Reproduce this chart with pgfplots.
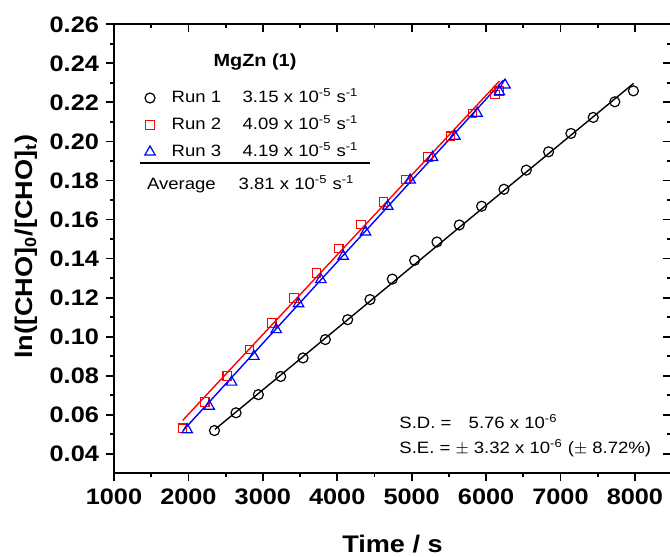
\documentclass[border=0pt]{standalone}
\usepackage{fontspec}
\setmainfont{Liberation Sans}[FakeStretch=1.13]
\usepackage{pgfplots}
\pgfplotsset{compat=1.18}

\pgfplotsset{
 myaxis/.style={
  scale only axis, width=278.5pt, height=224.5pt,
  xmin=1000, xmax=8485, ymin=0.03, ymax=0.26,
  xtick={1000,2000,3000,4000,5000,6000,7000,8000}, minor x tick num=1,
  ytick={0.04,0.06,0.08,0.10,0.12,0.14,0.16,0.18,0.20,0.22,0.24,0.26}, minor y tick num=1,
  scaled ticks=false,
  major tick length=4pt, minor tick length=2pt,
  every tick/.style={black, line width=0.9pt},
  axis line style={line width=0.9pt},
 }
}

\begin{document}
\begin{tikzpicture}
\begin{axis}[myaxis,
  axis x line*=top, axis y line*=right, tick align=inside,
  xticklabels={}, yticklabels={}]
\end{axis}
\begin{axis}[myaxis,
  axis x line*=bottom, axis y line*=left, tick align=outside,
  /pgf/number format/assume math mode=true,
  ticklabel style={font=\fontsize{11.2}{13}\selectfont\bfseries},
  xticklabel style={/pgf/number format/1000 sep={}},
  yticklabel style={/pgf/number format/fixed, /pgf/number format/fixed zerofill, /pgf/number format/precision=2},
  xlabel={Time / s},
  ylabel={ln([CHO]\textsubscript{0}/[CHO]\textsubscript{t})},
  label style={font=\fontsize{12}{14}\selectfont\bfseries},
  x label style={at={(axis description cs:0.5,-0.1753)}, anchor=base},
  y label style={at={(axis description cs:-0.1463,0.505)}, anchor=base},
  legend style={draw=none, fill=none, inner sep=0pt, outer sep=0pt,
    at={(axis description cs:0.0503,0.8548)}, anchor=north west,
    row sep=5pt, column sep=0pt,
    font=\fontsize{8.2}{10}\selectfont,
    nodes={inner sep=0pt, text height=6.5pt, text depth=2pt}},
  legend cell align=left,
  legend image code/.code={\path[draw=none] (0pt,0pt) (14.85pt,0pt);
    \draw[only marks, mark repeat=2, mark phase=2] plot coordinates {(0pt,0pt)(4pt,0pt)(8pt,0pt)};},
]
% Run 1
\addplot[only marks, black, mark=o, mark size=2.5pt, mark options={line width=0.6pt}] coordinates {
(2350,0.0519)(2640,0.0610)(2940,0.0703)(3240,0.0796)(3540,0.0891)(3840,0.0985)
(4140,0.1087)(4440,0.1190)(4740,0.1295)(5040,0.1391)(5340,0.1485)(5640,0.1572)
(5940,0.1668)(6240,0.1755)(6540,0.1853)(6840,0.1947)(7140,0.2041)(7440,0.2123)
(7730,0.2203)(7980,0.2259)};
\addlegendentry{\makebox[35.5pt][l]{Run 1}3.15 x 10\textsuperscript{-5} s\textsuperscript{-1}}
% Run 2
\addplot[only marks, red, mark=square, mark size=2.1pt, mark options={line width=0.6pt}] coordinates {
(1920,0.0531)(2220,0.0665)(2520,0.0798)(2820,0.0935)(3120,0.1070)(3420,0.1198)
(3720,0.1326)(4020,0.1451)(4320,0.1574)(4620,0.1690)(4920,0.1805)(5220,0.1921)
(5520,0.2027)(5820,0.2144)(6120,0.2241)(6175,0.2258)};
\addlegendentry{\makebox[35.5pt][l]{Run 2}4.09 x 10\textsuperscript{-5} s\textsuperscript{-1}}
% Run 3
\addplot[only marks, blue, mark=triangle, mark size=3pt, mark options={line width=0.6pt}] coordinates {
(1985,0.0523)(2280,0.0643)(2580,0.0767)(2880,0.0899)(3180,0.1036)(3480,0.1169)
(3780,0.1292)(4080,0.1412)(4380,0.1536)(4680,0.1668)(4980,0.1802)(5280,0.1918)
(5580,0.2027)(5880,0.2144)(6180,0.2254)(6255,0.2289)};
\addlegendentry{\makebox[35.5pt][l]{Run 3}4.19 x 10\textsuperscript{-5} s\textsuperscript{-1}}
% fits
\addplot[black, line width=0.7pt, forget plot] coordinates {(2357,0.0525)(7981,0.2297)};
\addplot[red, line width=0.7pt, forget plot] coordinates {(1923,0.0571)(6179,0.2309)};
\addplot[blue, line width=0.7pt, forget plot] coordinates {(1931,0.0520)(6233,0.2314)};

\node[anchor=base, inner sep=0pt, font=\fontsize{8.8}{11}\selectfont\bfseries] at (axis description cs:0.2531,0.9058) {MgZn (1)};
\draw[line width=0.9pt] (axis description cs:0.0467,0.6904) -- (axis description cs:0.4596,0.6904);
\node[anchor=base west, inner sep=0pt, font=\fontsize{8.2}{10}\selectfont] at (axis description cs:0.0587,0.633) {Average};
\node[anchor=base west, inner sep=0pt, font=\fontsize{8.2}{10}\selectfont] at (axis description cs:0.2232,0.633) {3.81 x 10\textsuperscript{-5} s\textsuperscript{-1}};
\node[anchor=base west, inner sep=0pt, font=\fontsize{8.2}{10}\selectfont] at (axis description cs:0.5117,0.1009) {S.D. =};
\node[anchor=base west, inner sep=0pt, font=\fontsize{8.2}{10}\selectfont] at (axis description cs:0.6361,0.1009) {5.76 x 10\textsuperscript{-6}};
\node[anchor=base west, inner sep=0pt, font=\fontsize{8.2}{10}\selectfont] at (axis description cs:0.5117,0.0452) {S.E. = $\pm$ 3.32 x 10\textsuperscript{-6} ($\pm$ 8.72\%)};
\coordinate (bl) at (rel axis cs:0,0);
\coordinate (tr) at (rel axis cs:1,1);
\end{axis}
\pgfresetboundingbox
\path[use as bounding box] ([xshift=-57pt,yshift=-41.35pt]bl) rectangle ([xshift=-0.5pt,yshift=12.15pt]tr);
\end{tikzpicture}
\end{document}
